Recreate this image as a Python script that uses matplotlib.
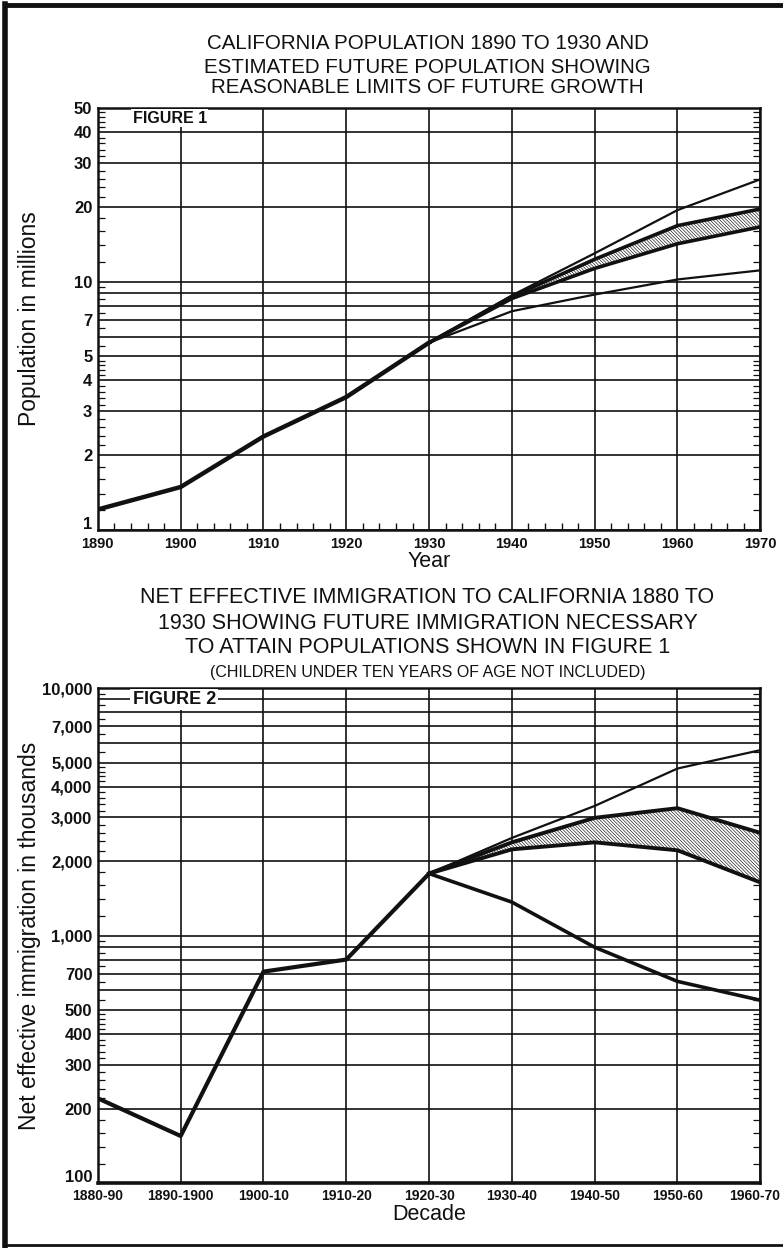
import matplotlib

matplotlib.use("Agg")
import matplotlib.pyplot as plt
from matplotlib.lines import Line2D
from matplotlib.transforms import ScaledTranslation
from matplotlib.ticker import FixedLocator, FixedFormatter, NullFormatter


# Figure 1: population, millions
YEARS_HIST = [1890, 1900, 1910, 1920, 1930]
POP_HIST = [1.21, 1.49, 2.38, 3.43, 5.68]
YEARS_PROJ = [1930, 1940, 1950, 1960, 1970]
POP_HIGH = [5.68, 8.8, 13.0, 19.4, 25.8]
POP_BAND_HI = [5.68, 8.7, 12.3, 16.8, 19.6]
POP_BAND_LO = [5.68, 8.55, 11.3, 14.2, 16.6]
POP_LOW = [5.68, 7.6, 8.87, 10.2, 11.1]
YEAR_TICKS = [1890, 1900, 1910, 1920, 1930, 1940, 1950, 1960, 1970]
POP_GRID = [1, 2, 3, 4, 5, 6, 7, 8, 9, 10, 20, 30, 40, 50]
POP_LABELS = ["1", "2", "3", "4", "5", "", "7", "", "", "10", "20", "30", "40", "50"]

# Figure 2: net effective immigration, thousands
DECADES = ["1880-90", "1890-1900", "1900-10", "1910-20", "1920-30",
           "1930-40", "1940-50", "1950-60", "1960-70"]
IMM_HIST = [220, 155, 715, 800, 1780]
IMM_HIGH = [1780, 2480, 3340, 4730, 5610]
IMM_BAND_HI = [1780, 2380, 2990, 3270, 2600]
IMM_BAND_LO = [1780, 2230, 2380, 2210, 1640]
IMM_LOW = [1780, 1365, 897, 653, 548]
IMM_GRID = [100, 200, 300, 400, 500, 600, 700, 800, 900,
            1000, 2000, 3000, 4000, 5000, 6000, 7000, 8000, 9000, 10000]
IMM_LABELS = ["100", "200", "300", "400", "500", "", "700", "", "",
              "1,000", "2,000", "3,000", "4,000", "5,000", "", "7,000", "", "", "10,000"]

FONT = ["Liberation Sans", "DejaVu Sans"]
INK = "#111111"
HATCH = "\\" * 10


def minor_log(scale):
    base = [1.2, 1.4, 1.6, 1.8, 2.2, 2.4, 2.6, 2.8,
            3.2, 3.4, 3.6, 3.8, 4.2, 4.4, 4.6, 4.8,
            5.5, 6.5, 7.5, 8.5, 9.5]
    return [round(b * scale, 6) for b in base]


def nudge(fig, label, dx_px, dy_px):
    label.set_transform(label.get_transform()
                        + ScaledTranslation(dx_px / 100, dy_px / 100, fig.dpi_scale_trans))


def style_axes(fig, ax, grid_vals, labels, minors):
    ax.set_yscale("log")
    ax.yaxis.set_major_locator(FixedLocator(grid_vals))
    ax.yaxis.set_major_formatter(FixedFormatter(labels))
    ax.yaxis.set_minor_locator(FixedLocator(minors))
    ax.yaxis.set_minor_formatter(NullFormatter())
    ax.grid(True, which="major", color=INK, linewidth=1.2)
    ax.tick_params(axis="both", which="major", length=0, labelsize=12, colors=INK)
    ax.tick_params(axis="y", which="major", pad=4)
    ax.tick_params(axis="y", which="minor", direction="in", length=5, width=0.9,
                   left=True, right=True, color=INK)
    for sp in ax.spines.values():
        sp.set_linewidth(1.8)
        sp.set_color(INK)
    ax.set_axisbelow(True)
    # the lowest value label sits just above the bottom edge, as on the plate
    ticks = ax.yaxis.get_major_ticks()
    nudge(fig, ticks[0].label1, 0, 7)
    for t in ticks:
        t.label1.set_fontweight("bold")


def main():
    plt.rcParams.update({"font.family": FONT, "hatch.linewidth": 0.45,
                         "hatch.color": INK})
    fig = plt.figure(figsize=(7.83, 12.48), dpi=100)

    # ---------------- Figure 1 ----------------
    ax1 = fig.add_axes([0.125, 0.5753, 0.846, 0.3382])
    ax1.set_xlim(1890, 1970)
    ax1.set_ylim(1, 50)
    pop_minor = minor_log(1) + [12, 14, 16, 18, 22, 24, 26, 28, 32, 34, 36, 38, 42, 44, 46, 48]
    style_axes(fig, ax1, POP_GRID, POP_LABELS, pop_minor)
    ax1.set_xticks(YEAR_TICKS)
    ax1.set_xticklabels([str(y) for y in YEAR_TICKS], fontweight="bold", fontsize=10.5)
    ax1.xaxis.set_minor_locator(FixedLocator(list(range(1892, 1970, 2))))
    ax1.tick_params(axis="x", which="minor", direction="in", length=5, width=1.0, color=INK)
    ax1.tick_params(axis="x", which="major", pad=5)

    ax1.fill_between(YEARS_PROJ, POP_BAND_LO, POP_BAND_HI, facecolor="white",
                     edgecolor=INK, linewidth=0, hatch=HATCH, zorder=2)
    ax1.plot(YEARS_PROJ, POP_HIGH, color=INK, linewidth=1.6, zorder=3)
    ax1.plot(YEARS_PROJ, POP_LOW, color=INK, linewidth=1.6, zorder=3)
    ax1.plot(YEARS_PROJ, POP_BAND_HI, color=INK, linewidth=2.6, zorder=3)
    ax1.plot(YEARS_PROJ, POP_BAND_LO, color=INK, linewidth=2.6, zorder=3)
    ax1.plot(YEARS_HIST, POP_HIST, color=INK, linewidth=3.2, zorder=4)

    ax1.text(1894.2, 45.5, "FIGURE 1", fontsize=11.5, fontweight="bold", color=INK,
             va="center", ha="left",
             bbox={"facecolor": "white", "edgecolor": "none", "pad": 1})
    ax1.set_xlabel("Year", fontsize=15.5, color=INK, labelpad=0)
    ax1.set_ylabel("Population in millions", fontsize=16.5, color=INK)
    ax1.yaxis.set_label_coords(-0.086, 0.5)

    fig.text(0.546, 0.9655, "CALIFORNIA POPULATION 1890 TO 1930 AND",
             ha="center", va="center", fontsize=14.8, color=INK)
    fig.text(0.546, 0.946, "ESTIMATED FUTURE POPULATION SHOWING",
             ha="center", va="center", fontsize=14.8, color=INK)
    fig.text(0.546, 0.9295, "REASONABLE LIMITS OF FUTURE GROWTH",
             ha="center", va="center", fontsize=14.8, color=INK)

    # ---------------- Figure 2 ----------------
    ax2 = fig.add_axes([0.125, 0.052, 0.846, 0.3967])
    x_hist = list(range(len(IMM_HIST)))
    x_proj = list(range(len(IMM_HIST) - 1, len(DECADES)))
    ax2.set_xlim(0, len(DECADES) - 1)
    ax2.set_ylim(100, 10000)
    imm_minor = minor_log(100) + minor_log(1000)
    style_axes(fig, ax2, IMM_GRID, IMM_LABELS, imm_minor)
    ax2.set_xticks(range(len(DECADES)))
    ax2.set_xticklabels(DECADES, fontweight="bold", fontsize=10)
    ax2.tick_params(axis="x", which="major", pad=4)
    ax2.spines["bottom"].set_linewidth(2.6)
    nudge(fig, ax2.xaxis.get_major_ticks()[-1].label1, -6, 0)

    ax2.fill_between(x_proj, IMM_BAND_LO, IMM_BAND_HI, facecolor="white",
                     edgecolor=INK, linewidth=0, hatch=HATCH, zorder=2)
    ax2.plot(x_proj, IMM_HIGH, color=INK, linewidth=1.6, zorder=3)
    ax2.plot(x_proj, IMM_LOW, color=INK, linewidth=2.6, zorder=3)
    ax2.plot(x_proj, IMM_BAND_HI, color=INK, linewidth=2.8, zorder=3)
    ax2.plot(x_proj, IMM_BAND_LO, color=INK, linewidth=2.8, zorder=3)
    ax2.plot(x_hist, IMM_HIST, color=INK, linewidth=3.0, zorder=4)

    ax2.text(0.42, 9000, "FIGURE 2", fontsize=13, fontweight="bold", color=INK,
             va="center", ha="left",
             bbox={"facecolor": "white", "edgecolor": "none", "pad": 1.5})
    ax2.set_xlabel("Decade", fontsize=15.5, color=INK, labelpad=1)
    ax2.set_ylabel("Net effective immigration in thousands", fontsize=16.5, color=INK)
    ax2.yaxis.set_label_coords(-0.086, 0.5)

    fig.text(0.546, 0.5216, "NET EFFECTIVE IMMIGRATION TO CALIFORNIA 1880 TO",
             ha="center", va="center", fontsize=15.5, color=INK)
    fig.text(0.546, 0.5008, "1930 SHOWING FUTURE IMMIGRATION NECESSARY",
             ha="center", va="center", fontsize=15.5, color=INK)
    fig.text(0.546, 0.4808, "TO ATTAIN POPULATIONS SHOWN IN FIGURE 1",
             ha="center", va="center", fontsize=15.5, color=INK)
    fig.text(0.546, 0.4615, "(CHILDREN UNDER TEN YEARS OF AGE NOT INCLUDED)",
             ha="center", va="center", fontsize=11.5, color=INK)

    # outer frame of the plate
    fig.add_artist(Line2D([0.0065, 0.0065], [0.002, 0.997], transform=fig.transFigure,
                          color=INK, linewidth=4))
    fig.add_artist(Line2D([0.0065, 1.0], [0.996, 0.996], transform=fig.transFigure,
                          color=INK, linewidth=3.5))
    fig.add_artist(Line2D([0.0065, 1.0], [0.0025, 0.0025], transform=fig.transFigure,
                          color=INK, linewidth=2))

    fig.savefig("out.png", dpi=100, facecolor="white")
    plt.close(fig)


if __name__ == "__main__":
    main()
